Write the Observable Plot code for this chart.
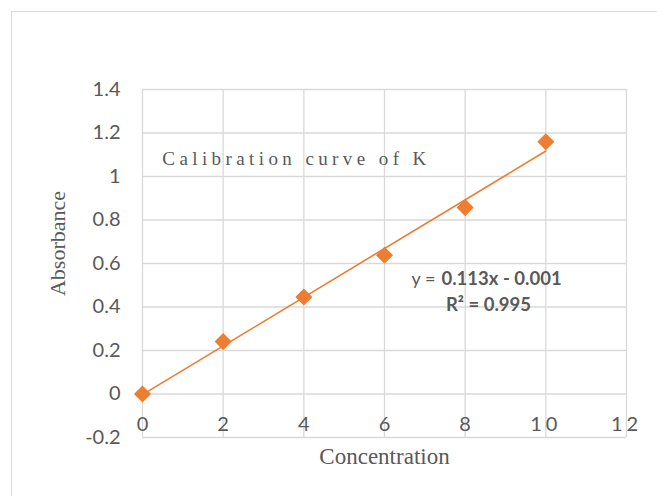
<!DOCTYPE html>
<html>
<head>
<meta charset="utf-8">
<script src="https://cdn.jsdelivr.net/npm/d3@7"></script>
<script src="https://cdn.jsdelivr.net/npm/@observablehq/plot@0.6"></script>
<style>
  html, body { margin: 0; padding: 0; background: #fff; }
  #wrap { position: relative; width: 657px; height: 496px; overflow: hidden; }
  #border { position: absolute; left: 11px; top: 11px; width: 700px; height: 600px; border: 1.5px solid #d9d9d9; }
  #chart { position: absolute; left: 0; top: 0; }
</style>
</head>
<body>
<div id="wrap"><div id="border"></div><div id="chart"></div></div>
<script>
const concentration = [0, 2, 4, 6, 8, 10];
const absorbance = [0, 0.241, 0.446, 0.638, 0.857, 1.16];
const xTicks = [0, 2, 4, 6, 8, 10, 12];
const yTicks = [-0.2, 0, 0.2, 0.4, 0.6, 0.8, 1, 1.2, 1.4];
const titleText = "Calibration curve of K";
const xLabel = "Concentration";
const yLabel = "Absorbance";
const eqPrefix = "y =";
const eqBody = "0.113x - 0.001";
const r2Text = "R² = 0.995";

const data = concentration.map((c, i) => ({x: c, y: absorbance[i]}));
const orange = "#ED7D31";
const grid = "#d9d9d9";
const gray = "#595959";
const sans = "Lato, 'Open Sans', sans-serif";
const serif = "'Liberation Serif', 'DejaVu Serif', serif";

const chart = Plot.plot({
  width: 657,
  height: 496,
  marginLeft: 142,
  marginRight: 31,
  marginTop: 89,
  marginBottom: 59,
  style: {background: "transparent", color: gray, overflow: "visible"},
  x: {domain: [0, 12], ticks: xTicks},
  y: {domain: [-0.2, 1.4], ticks: yTicks},
  marks: [
    Plot.gridX(xTicks, {stroke: grid, strokeOpacity: 1, strokeWidth: 1.3}),
    Plot.gridY(yTicks, {stroke: grid, strokeOpacity: 1, strokeWidth: 1.3}),
    Plot.axisY(yTicks, {
      anchor: "left", tickSize: 0, tickPadding: 22,
      tickFormat: d => String(+d.toFixed(1)),
      fontSize: 20, fontFamily: sans, fill: gray, label: null
    }),
    Plot.axisX(xTicks, {
      anchor: "bottom", tickSize: 0, tickPadding: 0, dy: -21,
      fontSize: 20, fontFamily: sans, fill: gray, label: null
    }),
    Plot.linearRegressionY(data, {x: "x", y: "y", stroke: orange, strokeWidth: 1.6, ci: 0}),
    Plot.dot(data, {x: "x", y: "y", symbol: "diamond2", r: 7.7, fill: orange, stroke: "none"}),
    Plot.text([titleText], {
      frameAnchor: "top-left", dx: 154, dy: 69, textAnchor: "middle", lineAnchor: "middle",
      fontFamily: serif, fontSize: 19, fill: gray
    }),
    Plot.text([yLabel], {
      frameAnchor: "left", rotate: -90, dx: -85, dy: -20, textAnchor: "middle", lineAnchor: "middle",
      fontFamily: serif, fontSize: 22, fill: gray
    }),
    Plot.text([xLabel], {
      frameAnchor: "bottom", dy: 19, textAnchor: "middle", lineAnchor: "middle",
      fontFamily: serif, fontSize: 23, fill: gray
    }),
    Plot.text([eqPrefix], {
      frameAnchor: "top-left", dx: 293, dy: 190, textAnchor: "end", lineAnchor: "middle",
      fontFamily: sans, fontSize: 18, fill: gray
    }),
    Plot.text([eqBody], {
      frameAnchor: "top-left", dx: 299, dy: 190, textAnchor: "start", lineAnchor: "middle",
      fontFamily: sans, fontSize: 18.5, fontWeight: "bold", fill: gray
    }),
    Plot.text([r2Text], {
      frameAnchor: "top-left", dx: 346, dy: 216, textAnchor: "middle", lineAnchor: "middle",
      fontFamily: sans, fontSize: 18.5, fontWeight: "bold", fill: gray
    })
  ]
});
document.getElementById("chart").appendChild(chart);

// letter-spacing tweaks (Plot has no letterSpacing option)
d3.select(chart).selectAll("text").each(function() {
  const t = this.textContent;
  if (t === titleText) d3.select(this).style("letter-spacing", "4.4px");
  if (t === "10" || t === "12") d3.select(this).style("letter-spacing", "4px");
});
</script>
</body>
</html>
